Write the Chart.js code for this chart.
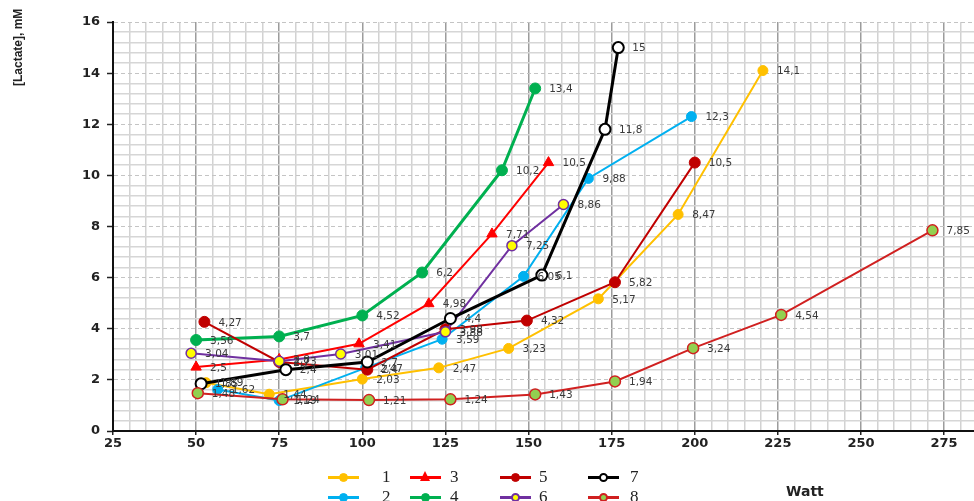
<!DOCTYPE html>
<html>
<head>
<meta charset="utf-8">
<script src="https://cdn.jsdelivr.net/npm/chart.js@4.4.1/dist/chart.umd.min.js"></script>
<style>
  html, body { margin: 0; padding: 0; background: #fff; overflow: hidden; }
  #wrap { position: relative; width: 974px; height: 501px; }
  #lactateChart { position: absolute; left: 0; top: 0; }
  .y-title {
    position: absolute; left: 11px; top: 86px;
    transform-origin: 0 0; transform: rotate(-90deg);
    font: bold 12px "Liberation Sans Narrow", "Arial Narrow", "Liberation Sans", sans-serif;
    color: #222; white-space: nowrap;
  }
  .x-title {
    position: absolute; left: 786px; top: 483px;
    font: bold 14px "DejaVu Sans", sans-serif; color: #222;
  }
  .lg-line { position: absolute; width: 31px; height: 3px; }
  .lg-dot { position: absolute; box-sizing: border-box; border-radius: 50%; }
  .lg-tri { position: absolute; width: 0; height: 0; }
  .lg-text { position: absolute; font: 17px "Liberation Serif", serif; color: #222; line-height: 18px; }
</style>
</head>
<body>
<div id="wrap">
  <canvas id="lactateChart" width="974" height="501"></canvas>
  <div class="y-title">[Lactate], mM</div>
  <div class="x-title">Watt</div>
  <div id="legend"></div>
</div>
<script>
// Lactate vs. workload, eight subjects
const seriesNames = ['1', '2', '3', '4', '5', '6', '7', '8'];

const watts1 = [53, 72, 100, 123, 144, 171, 195, 220.5];
const lactate1 = [1.89, 1.44, 2.03, 2.47, 3.23, 5.17, 8.47, 14.1];

const watts2 = [56.5, 75, 101, 124, 148.5, 168, 199];
const lactate2 = [1.62, 1.19, 2.47, 3.59, 6.05, 9.88, 12.3];

const watts3 = [50, 75, 99, 120, 139, 156];
const lactate3 = [2.5, 2.8, 3.41, 4.98, 7.71, 10.5];

const watts4 = [50, 75, 100, 118, 142, 152];
const lactate4 = [3.56, 3.7, 4.52, 6.2, 10.2, 13.4];

const watts5 = [52.5, 75, 101.5, 125, 149.5, 176, 200];
const lactate5 = [4.27, 2.7, 2.4, 3.98, 4.32, 5.82, 10.5];

const watts6 = [48.5, 75, 93.5, 125, 145, 160.5];
const lactate6 = [3.04, 2.73, 3.01, 3.88, 7.25, 8.86];

const watts7 = [51.5, 77, 101.5, 126.5, 154, 173, 177];
const lactate7 = [1.85, 2.4, 2.7, 4.4, 6.1, 11.8, 15];

const watts8 = [50.5, 76, 102, 126.5, 152, 176, 199.5, 226, 271.5];
const lactate8 = [1.48, 1.24, 1.21, 1.24, 1.43, 1.94, 3.24, 4.54, 7.85];

const allWatts = [watts1, watts2, watts3, watts4, watts5, watts6, watts7, watts8];
const allLactate = [lactate1, lactate2, lactate3, lactate4, lactate5, lactate6, lactate7, lactate8];

// line colour, marker fill, marker edge, shape, line width, marker radius, marker edge width
const styles = [
  { line: '#FFC000', fill: '#FFC000', edge: '#FFC000', shape: 'circle', width: 2, radius: 5, edgeW: 1 },
  { line: '#00B0F0', fill: '#00B0F0', edge: '#00B0F0', shape: 'circle', width: 2, radius: 5, edgeW: 1 },
  { line: '#FF0000', fill: '#FF0000', edge: '#FF0000', shape: 'triangle', width: 2, radius: 6, edgeW: 1 },
  { line: '#00B050', fill: '#00B050', edge: '#00B050', shape: 'circle', width: 3, radius: 5.5, edgeW: 1 },
  { line: '#C00000', fill: '#C00000', edge: '#C00000', shape: 'circle', width: 2, radius: 5.5, edgeW: 1 },
  { line: '#7030A0', fill: '#FFFF00', edge: '#7030A0', shape: 'circle', width: 2, radius: 5, edgeW: 1.5 },
  { line: '#000000', fill: '#FFFFFF', edge: '#000000', shape: 'circle', width: 3, radius: 5.5, edgeW: 2 },
  { line: '#D02020', fill: '#92D050', edge: '#D02020', shape: 'circle', width: 2, radius: 5.5, edgeW: 1.5 }
];

const X_MIN = 25, X_MAX = 284;
const isMultiple = (v, step) => Math.abs(v - Math.round(v / step) * step) < 1e-6;

const datasets = seriesNames.map((name, i) => ({
  label: name,
  data: allWatts[i].map((w, k) => ({ x: w, y: allLactate[i][k] })),
  borderColor: styles[i].line,
  backgroundColor: styles[i].fill,
  borderWidth: styles[i].width,
  pointStyle: styles[i].shape,
  pointRadius: styles[i].radius,
  pointBackgroundColor: styles[i].fill,
  pointBorderColor: styles[i].edge,
  pointBorderWidth: styles[i].edgeW,
  tension: 0,
  order: seriesNames.length - i
}));

// value next to every point, comma as decimal separator
const pointLabels = {
  id: 'pointLabels',
  afterDatasetsDraw(chart) {
    const ctx = chart.ctx;
    ctx.save();
    ctx.font = '10.5px "DejaVu Sans", sans-serif';
    ctx.fillStyle = '#3a3a3a';
    ctx.textBaseline = 'middle';
    chart.data.datasets.forEach((ds, i) => {
      chart.getDatasetMeta(i).data.forEach((pt, k) => {
        ctx.fillText(String(ds.data[k].y).replace('.', ','), pt.x + 14, pt.y + 1);
      });
    });
    ctx.restore();
  }
};

const tickFont = { family: 'DejaVu Sans', size: 13, weight: 'bold' };

new Chart(document.getElementById('lactateChart'), {
  type: 'line',
  data: { datasets: datasets },
  options: {
    responsive: false,
    animation: false,
    layout: { autoPadding: false, padding: { top: 22, right: 0, left: 0, bottom: 0 } },
    plugins: { legend: { display: false }, tooltip: { enabled: false } },
    scales: {
      x: {
        type: 'linear', position: 'bottom', min: X_MIN, max: X_MAX,
        afterFit: s => { s.height = 70; },
        ticks: { stepSize: 25, includeBounds: false, color: '#222', font: tickFont, padding: 1, maxRotation: 0 },
        grid: { color: '#9c9c9c', lineWidth: 1.5, tickLength: 4, tickColor: '#222', tickWidth: 1.5 },
        border: { color: '#111', width: 2 }
      },
      xMinor: {
        type: 'linear', position: 'top', min: X_MIN, max: X_MAX,
        afterFit: s => { s.height = 0; },
        ticks: { stepSize: 5, includeBounds: false, display: false },
        grid: {
          drawTicks: false, lineWidth: 1.5,
          color: c => (c.tick && isMultiple(c.tick.value, 25)) ? 'rgba(0,0,0,0)' : '#d2d2d2'
        },
        border: { display: false }
      },
      y: {
        type: 'linear', position: 'left', min: 0, max: 16,
        afterFit: s => { s.width = 113; },
        ticks: { stepSize: 2, color: '#222', font: tickFont, padding: 7 },
        grid: { color: '#c4c4c4', lineWidth: 1, tickLength: 6, tickColor: '#222', tickWidth: 1.5 },
        border: { color: '#111', width: 2, dash: [4, 3] }
      },
      yMinor: {
        type: 'linear', position: 'right', min: 0, max: 16,
        afterFit: s => { s.width = 0; },
        ticks: { stepSize: 0.4, display: false },
        grid: {
          drawTicks: false, lineWidth: 1.5,
          color: c => (c.tick && isMultiple(c.tick.value, 2)) ? 'rgba(0,0,0,0)' : '#d6d6d6'
        },
        border: { display: false }
      }
    }
  },
  plugins: [pointLabels]
});

// legend: two rows, odd series on top, even series below
const legendCols = [328, 410, 500, 588];
const legendTextX = [382, 450, 539, 630];
const legendRows = [477, 497];
const legend = document.getElementById('legend');
seriesNames.forEach((name, i) => {
  const col = Math.floor(i / 2), row = i % 2;
  const x = legendCols[col], y = legendRows[row], st = styles[i];
  const line = document.createElement('div');
  line.className = 'lg-line';
  line.style.left = x + 'px';
  line.style.top = (y - 1.5) + 'px';
  line.style.background = st.line;
  legend.appendChild(line);
  if (st.shape === 'triangle') {
    const tri = document.createElement('div');
    tri.className = 'lg-tri';
    tri.style.left = (x + 10) + 'px';
    tri.style.top = (y - 6) + 'px';
    tri.style.borderLeft = '5.5px solid transparent';
    tri.style.borderRight = '5.5px solid transparent';
    tri.style.borderBottom = '10px solid ' + st.fill;
    legend.appendChild(tri);
  } else {
    const d = 9;
    const dot = document.createElement('div');
    dot.className = 'lg-dot';
    dot.style.width = d + 'px';
    dot.style.height = d + 'px';
    dot.style.left = (x + 15.5 - d / 2) + 'px';
    dot.style.top = (y - d / 2) + 'px';
    dot.style.background = st.fill;
    dot.style.border = (st.edgeW > 1 ? 2 : 1) + 'px solid ' + st.edge;
    legend.appendChild(dot);
  }
  const txt = document.createElement('div');
  txt.className = 'lg-text';
  txt.textContent = name;
  txt.style.left = legendTextX[col] + 'px';
  txt.style.top = (y - 9) + 'px';
  legend.appendChild(txt);
});
</script>
</body>
</html>
